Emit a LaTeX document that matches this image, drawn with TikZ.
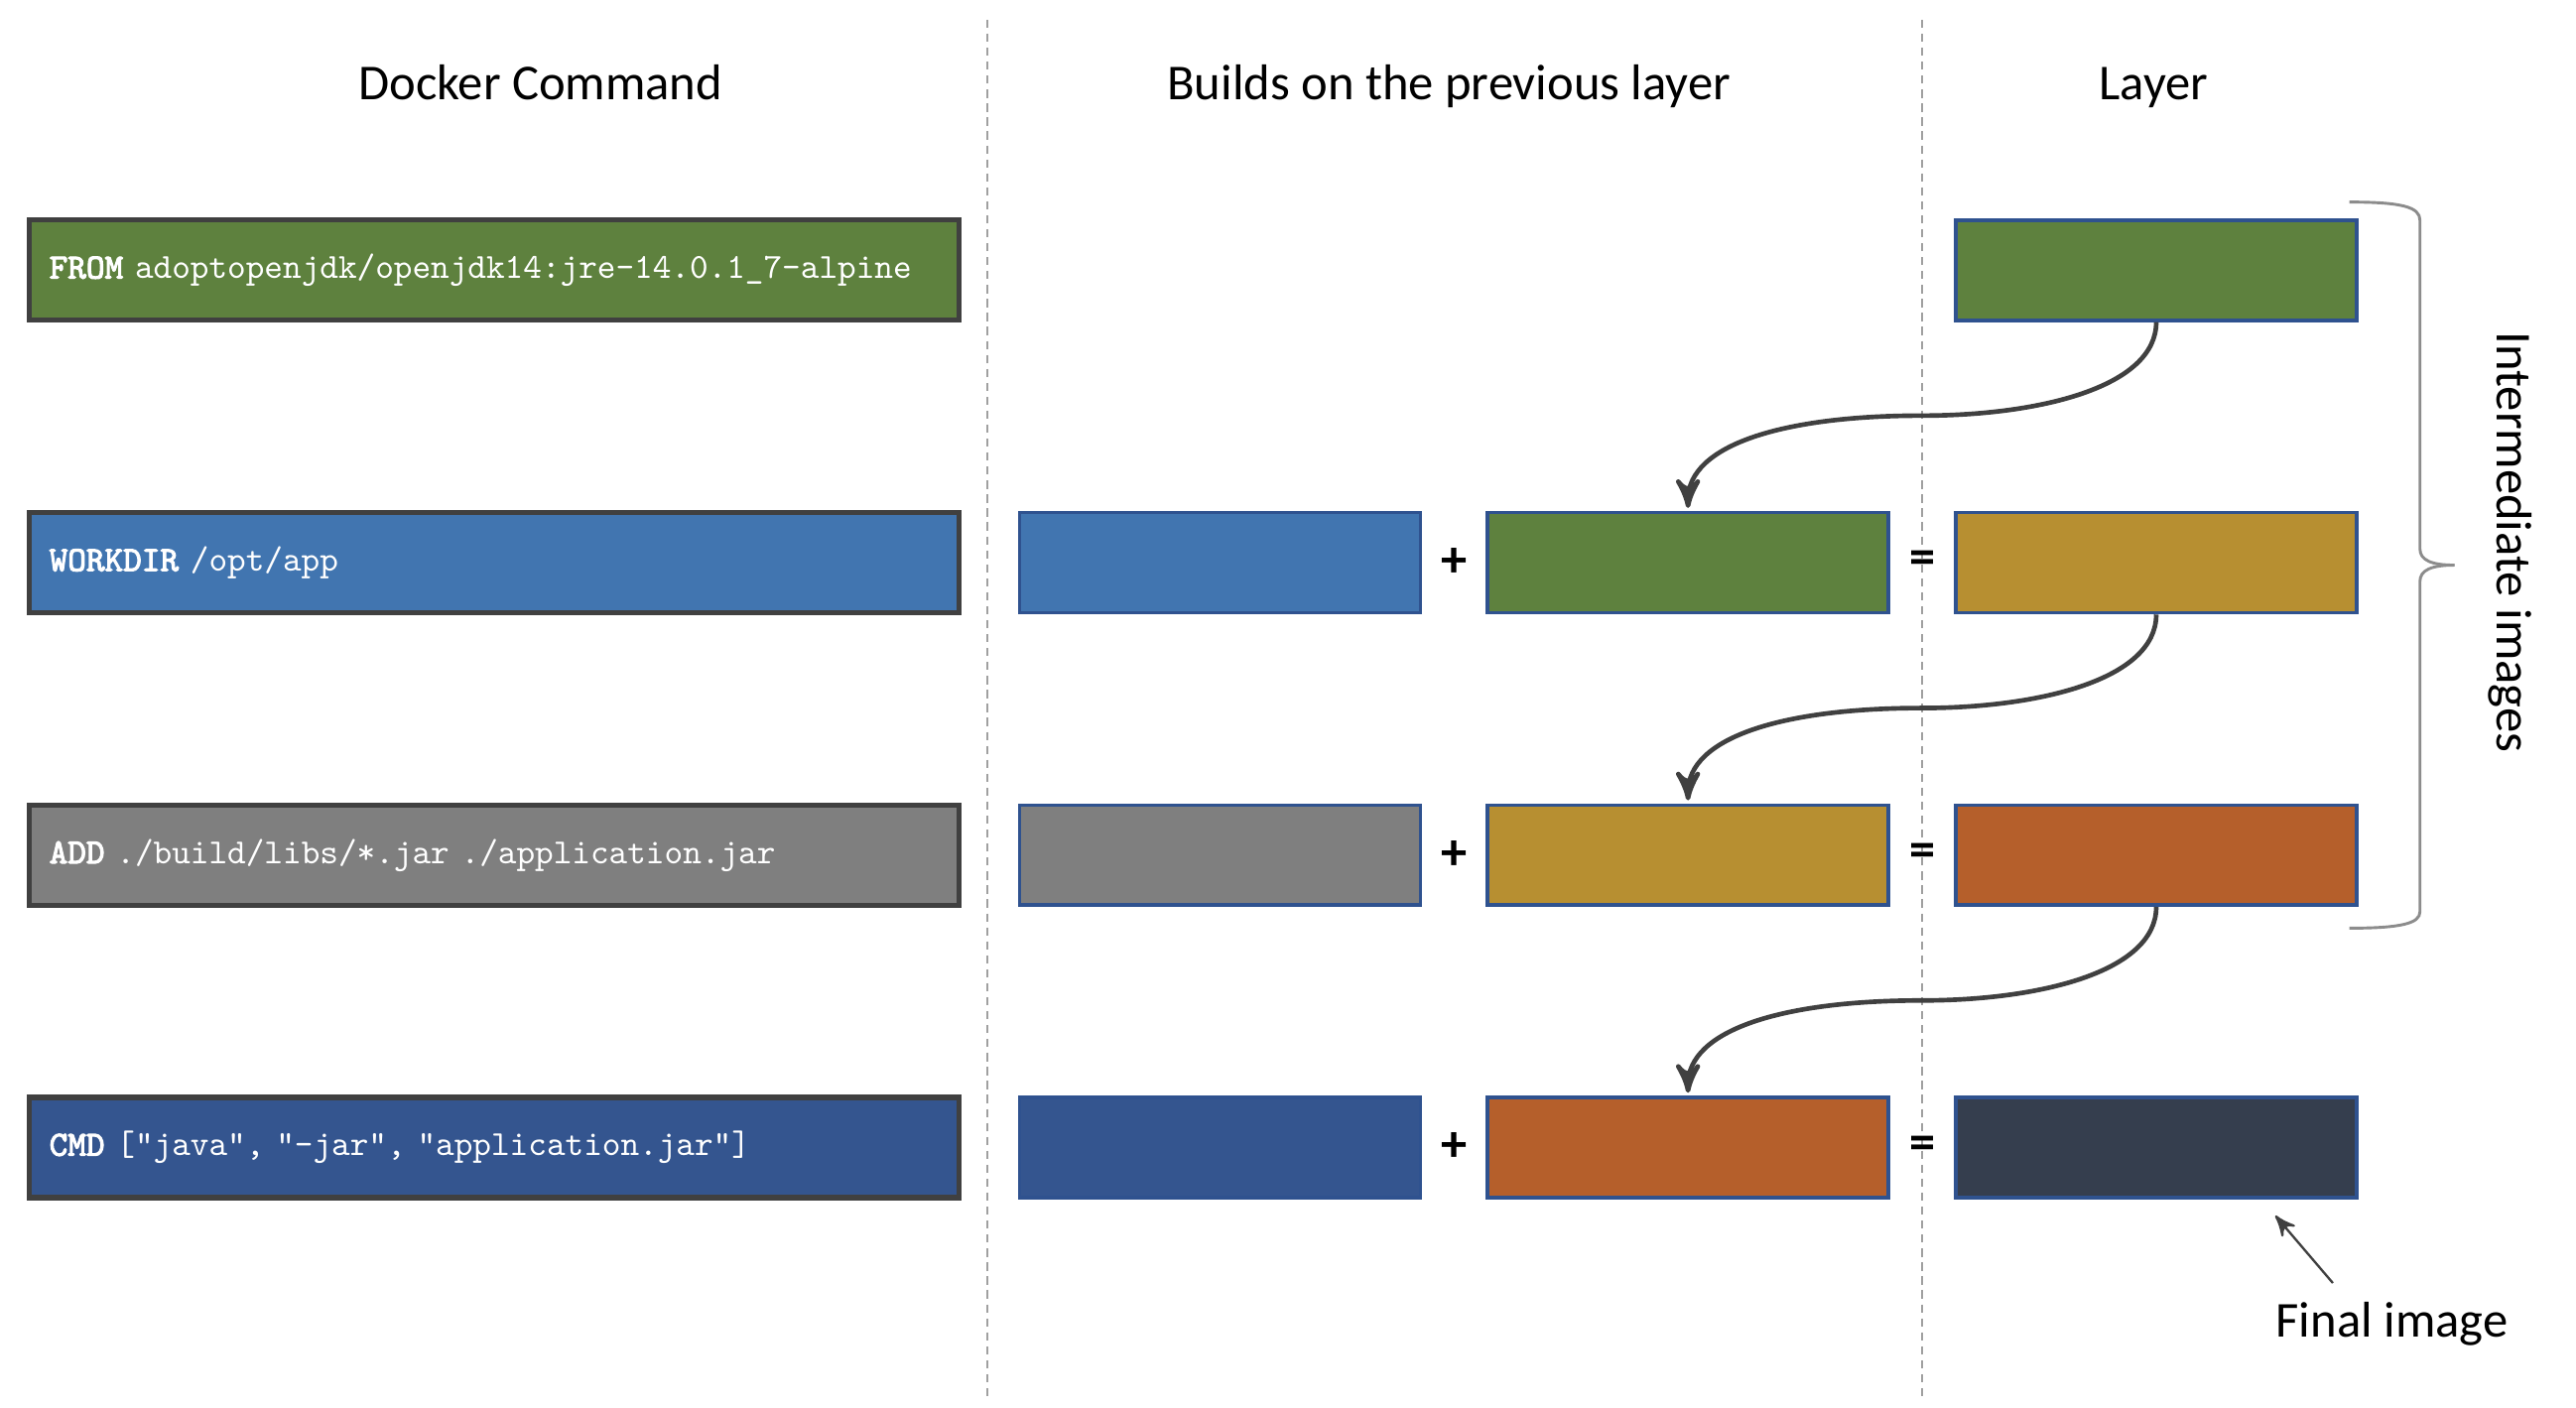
\documentclass[tikz,border=0pt]{standalone}
\usepackage{fontspec}
\setmainfont{Carlito}
\setmonofont{lmmono10-regular}[Extension=.otf,BoldFont=lmmono10-regular,
	BoldFeatures={FakeBold=3}]
\usetikzlibrary{arrows,positioning}

\definecolor{cgreen}{RGB}{94,129,62}
\definecolor{cblue}{RGB}{65,117,176}
\definecolor{cgray}{RGB}{127,127,127}
\definecolor{cgold}{RGB}{183,143,49}
\definecolor{corange}{RGB}{181,95,43}
\definecolor{cnavy}{RGB}{52,85,143}
\definecolor{cdark}{RGB}{53,62,78}
\definecolor{cmdline}{RGB}{64,64,64}
\definecolor{lyrline}{RGB}{47,82,143}
\definecolor{sepgray}{RGB}{160,160,160}
\definecolor{flowgray}{RGB}{64,64,64}
\definecolor{bracegray}{RGB}{140,140,140}

\begin{document}
\begin{tikzpicture}[x=0.1mm,y=-0.1mm,>=stealth',node distance=17.8mm,
	cmd/.style={draw=cmdline,line width=0.9pt,text=white,text width=54.2mm,
		inner xsep=1.2mm,minimum height=6.1mm,align=left,
		font=\fontsize{6.1}{7}\selectfont\ttfamily},
	lyr/.style={draw=lyrline,line width=0.6pt,minimum width=24.4mm,
		minimum height=6.1mm,inner sep=0pt},
	op/.style={font=\fontsize{9}{10}\selectfont\bfseries},
	head/.style={font=\fontsize{8.7}{10}\selectfont},
	sep/.style={draw=sepgray,line width=0.4pt,dash pattern=on 0.5mm off 0.35mm},
	flow/.style={->,draw=flowgray,line width=0.8pt,shorten >=0.5pt},
	brace/.style={draw=bracegray,line width=0.5pt}]
	\useasboundingbox (0,0) rectangle (1568,856.5);

	% column headers
	\node[head,anchor=base](hcmd) at (329,61){Docker Command};
	\node[head,anchor=base](hbuild) at (882,61){Builds on the previous layer};
	\node[head,anchor=base](hlayer) at (1311,61){Layer};

	% column separators
	\coordinate(s1t) at (601,12);
	\coordinate(s1b) at (601,850);
	\coordinate(s2t) at (1170,12);
	\coordinate(s2b) at (1170,850);
	\draw[sep] (s1t) -- (s1b);
	\draw[sep] (s2t) -- (s2b);

	% docker commands
	\node[cmd,fill=cgreen](c1) at (301,164.5){\textbf{FROM} adoptopenjdk/openjdk14:jre-14.0.1\_7-alpine};
	\node[cmd,fill=cblue](c2)[below of=c1]{\textbf{WORKDIR} /opt/app};
	\node[cmd,fill=cgray](c3)[below of=c2]{\textbf{ADD} ./build/libs/*.jar ./application.jar};
	\node[cmd,fill=cnavy](c4)[below of=c3]{\textbf{CMD} ["java", "-jar", "application.jar"]};

	% resulting layers
	\node[lyr,fill=cgreen](r1) at (1312.5,164.5){};
	\node[lyr,fill=cgold](r2)[below of=r1]{};
	\node[lyr,fill=corange](r3)[below of=r2]{};
	\node[lyr,fill=cdark](r4)[below of=r3]{};

	% previous layers
	\node[lyr,fill=cgreen](p2)[left of=r2,node distance=28.5mm]{};
	\node[lyr,fill=cgold](p3)[left of=r3,node distance=28.5mm]{};
	\node[lyr,fill=corange](p4)[left of=r4,node distance=28.5mm]{};

	% new layers
	\node[lyr,fill=cblue](n2)[left of=p2,node distance=28.5mm]{};
	\node[lyr,fill=cgray](n3)[left of=p3,node distance=28.5mm]{};
	\node[lyr,fill=cnavy](n4)[left of=p4,node distance=28.5mm]{};

	\node[op](plus2)[right of=n2,node distance=14.25mm]{+};
	\node[op](plus3)[right of=n3,node distance=14.25mm]{+};
	\node[op](plus4)[right of=n4,node distance=14.25mm]{+};
	\node[op](eq2)[right of=p2,node distance=14.25mm]{=};
	\node[op](eq3)[right of=p3,node distance=14.25mm]{=};
	\node[op](eq4)[right of=p4,node distance=14.25mm]{=};

	% layer passed on to the next step
	\coordinate(k1) at (1170,253);
	\coordinate(k2) at (1170,431);
	\coordinate(k3) at (1170,609);
	\draw[flow] (r1.south) .. controls +(0,40) and +(70,0) .. (k1)
		.. controls +(-85,0) and +(0,-40) .. (p2.north);
	\draw[flow] (r2.south) .. controls +(0,40) and +(70,0) .. (k2)
		.. controls +(-85,0) and +(0,-40) .. (p3.north);
	\draw[flow] (r3.south) .. controls +(0,40) and +(70,0) .. (k3)
		.. controls +(-85,0) and +(0,-40) .. (p4.north);

	% intermediate images brace
	\draw[brace] (1430,123) .. controls (1462,123) and (1473,126) .. (1473,134)
		-- (1473,334) .. controls (1473,341) and (1480,344) .. (1494,344);
	\draw[brace] (1494,344) .. controls (1480,344) and (1473,347) .. (1473,354)
		-- (1473,555) .. controls (1473,562) and (1462,565) .. (1430,565);
	\node[head,rotate=-90](inter) at (1528,330){Intermediate images};

	% final image
	\node[head](final) at (1456,806){Final image};
	\coordinate(ftail) at (1420,781);
	\coordinate(ftip) at (1385,740);
	\draw[->,draw=flowgray,line width=0.4pt] (ftail) -- (ftip);
\end{tikzpicture}
\end{document}
